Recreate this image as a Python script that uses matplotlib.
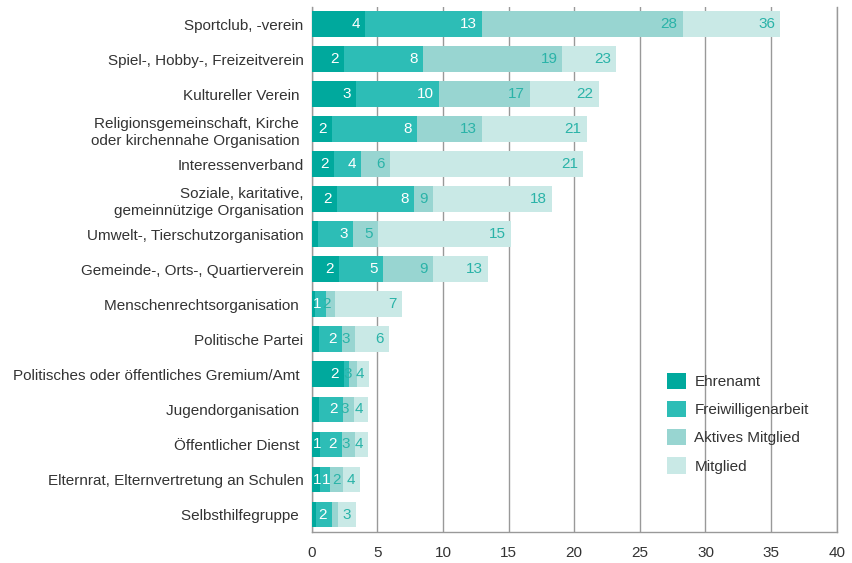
import matplotlib
matplotlib.use("Agg")
import matplotlib.pyplot as plt
from matplotlib.patches import Patch

# Categories (top to bottom)
categories = [
    "Sportclub, -verein",
    "Spiel-, Hobby-, Freizeitverein",
    "Kultureller Verein ",
    "Religionsgemeinschaft, Kirche \noder kirchennahe Organisation ",
    "Interessenverband",
    "Soziale, karitative,\ngemeinnützige Organisation",
    "Umwelt-, Tierschutzorganisation",
    "Gemeinde-, Orts-, Quartierverein",
    "Menschenrechtsorganisation ",
    "Politische Partei",
    "Politisches oder öffentliches Gremium/Amt ",
    "Jugendorganisation ",
    "Öffentlicher Dienst ",
    "Elternrat, Elternvertretung an Schulen",
    "Selbsthilfegruppe ",
]

# cumulative shares in %, each bar starts at 0
ehrenamt = [4.04, 2.44, 3.35, 1.52, 1.68, 1.9, 0.5, 2.06, 0.23, 0.58, 2.44, 0.58, 0.62, 0.62, 0.3]
freiwillig = [12.95, 8.45, 9.67, 8.0, 3.73, 7.77, 3.12, 5.41, 1.07, 2.28, 2.85, 2.36, 2.28, 1.37, 1.52]
aktiv = [28.26, 19.1, 16.6, 12.95, 5.94, 9.2, 5.03, 9.2, 1.75, 3.27, 3.45, 3.2, 3.27, 2.36, 1.98]
mitglied = [35.7, 23.2, 21.86, 20.94, 20.7, 18.28, 15.2, 13.45, 6.86, 5.86, 4.34, 4.26, 4.26, 3.66, 3.35]

series_names = ["Ehrenamt", "Freiwilligenarbeit", "Aktives Mitglied", "Mitglied"]
series = [ehrenamt, freiwillig, aktiv, mitglied]
colors = ["#00a99d", "#2dbdb6", "#98d5d1", "#c9e9e6"]
text_colors = ["white", "white", "#2ab3a8", "#2ab3a8"]
x_ticks = [0, 5, 10, 15, 20, 25, 30, 35, 40]

FONT = "Liberation Sans"
FS = 11
DARK = "#333333"

fig = plt.figure(figsize=(8.52, 5.63), dpi=100)
ax = fig.add_axes([0.366, 0.055, 0.616, 0.933])

y = list(range(len(categories)))
for vals, col in zip(series[::-1], colors[::-1]):
    ax.barh(y, vals, height=0.74, color=col, zorder=3)

ax.set_xlim(0, 40)
ax.set_ylim(len(categories) - 0.5, -0.5)
ax.set_xticks(x_ticks)
ax.set_xticklabels([str(t) for t in x_ticks], fontfamily=FONT, fontsize=FS, color=DARK)
ax.set_yticks(y)
ax.set_yticklabels(categories, fontfamily=FONT, fontsize=FS, color=DARK, linespacing=1.25)
ax.tick_params(axis="x", length=0, pad=10)
ax.tick_params(axis="y", length=0, pad=6)
ax.grid(axis="x", color="#999999", linewidth=1, zorder=0)
ax.spines["top"].set_visible(False)
for s in ["left", "bottom", "right"]:
    ax.spines[s].set_color("#999999")
    ax.spines[s].set_linewidth(1)

# value labels, right aligned at the end of each bar, pushed right if they collide
renderer = fig.canvas.get_renderer()
ppu = ax.get_window_extent(renderer).width / 40.0
pad = 5 / ppu
gap = 1 / ppu
for i in y:
    prev_val = 0.0
    prev_right = 0.0
    for vals, tc in zip(series, text_colors):
        v = vals[i]
        if v >= 0.6 and v - prev_val >= 0.55:
            t = ax.text(0, i, str(int(round(v))), ha="left", va="center",
                        color=tc, fontfamily=FONT, fontsize=FS, zorder=5)
            wid = t.get_window_extent(renderer).width / ppu
            left = max(v - pad - wid, prev_right + gap)
            t.set_x(left)
            prev_right = left + wid
        prev_val = v

handles = [Patch(facecolor=c, edgecolor="none") for c in colors]
fig.legend(handles, series_names, loc="upper left",
           bbox_to_anchor=(667 / 852, 1 - 373 / 563), frameon=False,
           borderpad=0, borderaxespad=0, handlelength=1.25, handleheight=1.25,
           handletextpad=0.55, labelspacing=0.78,
           prop={"family": FONT, "size": FS}, labelcolor=DARK)

fig.savefig("out.png", dpi=100)
